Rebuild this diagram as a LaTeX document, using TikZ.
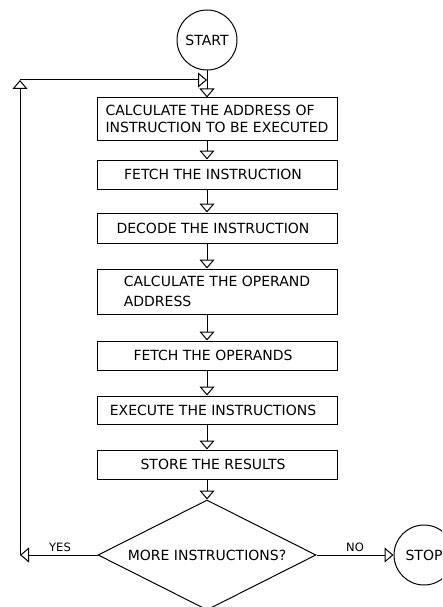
\documentclass[tikz,border=0pt]{standalone}
\usepackage{fontspec}
\setmainfont{DejaVu Sans}
\usetikzlibrary{arrows.meta,shapes.geometric}
\begin{document}
\begin{tikzpicture}[x=1pt,y=-1pt,
  font=\fontsize{14}{17}\selectfont,
  line width=1pt,
  flow/.style={-{Triangle[open,length=9pt,width=15pt]}},
  stepbox/.style={draw, minimum width=240pt, inner sep=0pt},
  % single-line steps: text sits a little left of the box centre
  onestep/.style={stepbox, execute at end node={\hspace*{8pt}}},
  term/.style={draw, circle, minimum size=60pt, inner sep=0pt},
  yesno/.style={font=\fontsize{11.5}{13}\selectfont, anchor=base, inner sep=0pt}]
\useasboundingbox (0,0) rectangle (442,607);
\fill[white] (0,0) rectangle (442,607);
\clip (0,0) rectangle (442,607);

% terminals
\node[term] (start) at (207,40) {START};
\node[term] (stop) at (424,555) {STOP};

% processing steps
\node[stepbox, minimum height=42pt, align=left] (b1) at (217,119)
  {CALCULATE THE ADDRESS OF\\INSTRUCTION TO BE EXECUTED};
\node[onestep, minimum height=29pt] (b2) at (217,174.5) {FETCH THE INSTRUCTION};
\node[onestep, minimum height=30pt] (b3) at (217,228) {DECODE THE INSTRUCTION};
\node[stepbox, minimum height=45pt, align=left] (b4) at (217,291.5)
  {CALCULATE THE OPERAND\\[3pt]ADDRESS};
\node[onestep, minimum height=29pt] (b5) at (217,355.5) {FETCH THE OPERANDS};
\node[onestep, minimum height=28pt] (b6) at (217,410) {EXECUTE THE INSTRUCTIONS};
\node[onestep, minimum height=29pt] (b7) at (217,464.5) {STORE THE RESULTS};

% decision
\node[draw, diamond, aspect=1.98, minimum width=218pt, minimum height=110pt, inner sep=0pt]
  (dec) at (207,555) {MORE INSTRUCTIONS?};

% main flow
\draw[flow] (start) -- (b1.north -| start);
\draw[flow] (b1.south -| start) -- (b2.north -| start);
\draw[flow] (b2.south -| start) -- (b3.north -| start);
\draw[flow] (b3.south -| start) -- (b4.north -| start);
\draw[flow] (b4.south -| start) -- (b5.north -| start);
\draw[flow] (b5.south -| start) -- (b6.north -| start);
\draw[flow] (b6.south -| start) -- (b7.north -| start);
\draw[flow] (b7.south -| start) -- (dec.north);

% loop back
\coordinate (cl) at (20,555);
\coordinate (ct) at (20,80);
\draw[flow] (dec.west) -- (cl);
\draw[flow] (cl) -- (ct);
\draw[flow] (ct) -- (ct -| start);

% exit
\draw[flow] (dec.east) -- (stop.west);

\node[yesno] (yes) at (60,551) {YES};
\node[yesno] (no) at (355,551) {NO};
\end{tikzpicture}
\end{document}
